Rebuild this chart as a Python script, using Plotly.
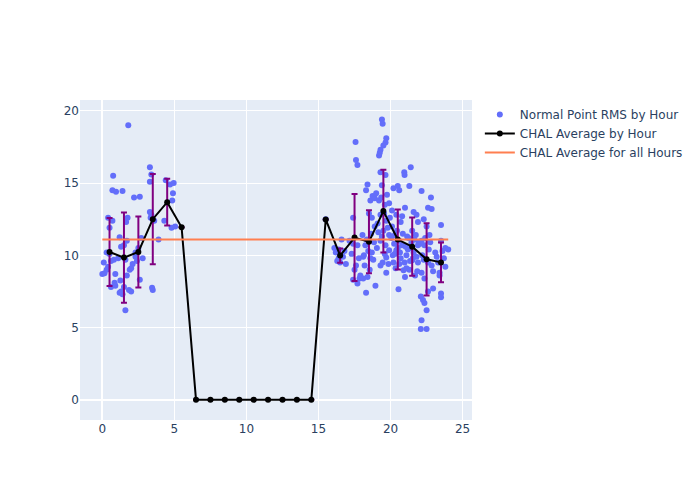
import plotly.graph_objects as go

# ---- Normal point RMS by hour (fractional hour, value) ----
rms_hours = [
    0.0, 0.1, 0.15, 0.3, 0.4, 0.5, 0.6, 0.7, 0.75, 0.7, 0.5, 0.8, 0.9, 0.85, 0.95, 0.6, 0.3, 0.9, 0.4,
    1.2, 1.3, 1.4, 1.5, 1.65, 1.7, 1.8, 1.25, 1.2, 1.4, 1.6, 1.5, 1.7, 1.9, 1.85, 1.1, 1.6, 1.3, 1.75,
    2.0, 2.1, 2.2, 2.6, 2.3, 2.4, 2.6, 2.0, 2.5, 2.7, 2.8, 2.3,
    3.3, 3.3, 3.4, 3.3, 3.35, 3.4, 3.5, 3.45, 3.9, 3.6,
    4.4, 4.7, 4.9, 4.95, 4.85, 4.8, 4.3,
    5.05,
    15.5,
    16.1, 16.2, 16.3, 16.4, 16.5, 16.6, 16.7, 16.8, 16.9, 16.4,
    17.57, 17.6, 17.7, 17.4, 17.4, 17.7, 17.6, 17.4, 17.7, 17.85, 17.8, 17.3, 17.15, 17.5, 17.9,
    18.4, 18.3, 18.6, 18.75, 18.9, 19.0, 18.5, 18.7, 18.05, 18.25, 18.45, 18.6, 18.8, 18.2, 18.4,
    18.1, 18.3, 18.95, 18.55, 18.15, 18.35, 18.65, 18.85, 18.9, 18.1, 18.7,
    19.4, 19.45, 19.7, 19.65, 19.5, 19.3, 19.2, 19.25, 19.3, 19.65, 19.4, 19.2, 19.6, 19.9, 19.3,
    19.7, 19.5, 19.9, 19.3, 19.65, 19.9, 19.45, 19.7, 19.7, 19.3, 19.85, 19.1, 19.15, 19.55, 19.75,
    19.35, 19.8, 19.05, 19.6, 19.95, 19.4,
    20.2, 20.5, 20.6, 20.97, 20.95, 20.1, 20.4, 20.7, 20.3, 20.6, 20.8, 20.4, 20.15, 20.7, 20.97,
    20.55, 20.9, 21.0, 20.2, 20.35, 20.05, 20.5, 20.85, 20.25, 20.65, 20.1, 20.45, 20.8, 20.3, 20.6,
    21.4, 21.3, 21.0, 21.6, 21.8, 21.9, 21.5, 21.25, 21.65, 21.9, 21.4, 21.1, 21.5, 21.9, 21.3,
    21.7, 21.1, 21.95, 21.2, 21.6, 21.8, 21.35, 21.75, 21.05, 21.45, 21.55, 21.15, 21.85,
    22.15, 22.8, 22.6, 22.85, 22.3, 22.5, 22.15, 22.35, 22.65, 22.2, 22.6, 22.85, 22.15, 22.35, 22.1,
    22.6, 22.25, 22.35, 22.5, 22.15, 22.1, 22.5, 22.95, 22.95, 22.05, 22.4, 22.75, 22.3, 22.7,
    23.5, 23.5, 23.8, 24.0, 23.3, 23.7, 23.4, 23.4, 23.5, 23.5, 23.8, 23.1, 23.2, 23.6,
]
rms_values = [
    8.7, 9.5, 8.75, 9.0, 12.6, 11.9, 9.6, 12.4, 15.5, 14.5, 10.1, 9.7, 7.9, 8.1, 14.4, 7.8, 10.2, 8.7, 9.2,
    11.25, 10.6, 14.45, 10.7, 12.3, 11.0, 19.0, 8.26, 7.4, 7.3, 6.2, 7.8, 8.6, 9.0, 7.6, 9.8, 9.7, 7.5, 12.6,
    9.1, 9.4, 14.0, 14.05, 9.9, 9.6, 8.3, 7.5, 10.5, 11.2, 9.8, 10.2,
    16.1, 15.1, 15.6, 13.0, 12.6, 12.8, 7.6, 7.75, 11.1, 12.4,
    15.2, 14.9, 14.3, 15.0, 13.8, 11.9, 12.4,
    12.0,
    12.5,
    10.5, 10.2, 9.6, 10.4, 9.5, 11.1, 9.9, 10.3, 9.4, 9.8,
    17.85, 16.6, 16.25, 12.6, 10.8, 10.7, 9.3, 8.3, 8.05, 8.4, 9.8, 10.1, 11.0, 9.0, 8.6,
    14.9, 14.5, 13.8, 14.1, 13.95, 14.3, 12.9, 12.6, 11.4, 10.7, 10.3, 9.8, 9.7, 9.3, 8.5,
    8.4, 7.4, 7.9, 9.0, 10.0, 11.1, 11.5, 10.9, 12.0, 9.9, 10.2,
    19.4, 19.1, 18.1, 17.8, 17.6, 17.3, 16.9, 17.1, 15.75, 15.55, 14.85, 13.8, 13.5, 13.6, 12.8,
    12.4, 11.7, 11.4, 11.0, 10.7, 10.35, 9.5, 9.85, 8.8, 9.3, 9.4, 12.2, 11.6, 12.9, 14.2,
    14.0, 11.9, 10.5, 10.1, 12.6, 11.3,
    14.65, 14.8, 14.5, 15.55, 15.75, 13.1, 12.8, 12.3, 11.4, 11.0, 10.7, 10.35, 10.0, 9.8, 9.5,
    7.65, 8.96, 8.5, 9.5, 9.1, 11.2, 10.5, 11.5, 10.8, 10.2, 12.0, 11.7, 12.7, 10.1, 9.4,
    16.1, 14.8, 13.3, 13.0, 12.8, 12.3, 11.7, 11.2, 11.1, 10.7, 10.5, 10.0, 9.65, 9.5, 9.0,
    8.6, 9.1, 10.9, 10.4, 10.2, 9.9, 9.6, 11.4, 10.6, 10.9, 9.8, 11.3, 8.9,
    14.45, 14.0, 13.3, 13.2, 12.5, 12.0, 11.0, 10.7, 10.4, 10.0, 9.5, 9.3, 8.8, 8.4, 7.15,
    7.5, 6.9, 6.7, 6.2, 5.5, 4.9, 4.9, 7.7, 8.9, 10.8, 11.2, 10.9, 9.7, 11.4,
    12.1, 11.0, 10.5, 10.4, 9.5, 9.8, 8.8, 8.6, 7.35, 7.1, 9.2, 10.2, 9.9, 10.3,
]

# ---- CHAL average by hour ----
avg_hours = [h + 0.5 for h in range(24)]
avg_values = [10.23, 9.84, 10.23, 12.5, 13.68, 11.94, 0, 0, 0, 0, 0, 0, 0, 0, 0,
              12.48, 9.98, 11.23, 10.93, 13.06, 11.09, 10.6, 9.72, 9.51]
avg_std = [2.36, 3.12, 2.45, 3.12, 1.62, 0, 0, 0, 0, 0, 0, 0, 0, 0, 0,
           0, 0.49, 3.01, 2.18, 2.86, 2.08, 2.02, 2.5, 1.37]

# ---- CHAL average for all hours ----
overall_hours = [0, 24]
overall_avg = 11.1

fig = go.Figure()
fig.add_trace(go.Scatter(
    x=rms_hours, y=rms_values, mode="markers",
    name="Normal Point RMS by Hour",
    marker=dict(color="#636efa", size=6),
))
fig.add_trace(go.Scatter(
    x=avg_hours, y=avg_values, mode="lines+markers",
    name="CHAL Average by Hour",
    line=dict(color="black", width=2),
    marker=dict(color="black", size=6),
    error_y=dict(type="data", array=avg_std, visible=True,
                 color="purple", thickness=2, width=3),
))
fig.add_trace(go.Scatter(
    x=overall_hours, y=[overall_avg] * len(overall_hours), mode="lines",
    name="CHAL Average for all Hours",
    line=dict(color="coral", width=2),
))

fig.update_layout(
    width=700, height=500,
    template="plotly",
    font=dict(family="DejaVu Sans"),
    xaxis=dict(range=[-1.55, 25.65]),
    yaxis=dict(range=[-1.4, 20.75]),
)
fig.write_html("out.html")
